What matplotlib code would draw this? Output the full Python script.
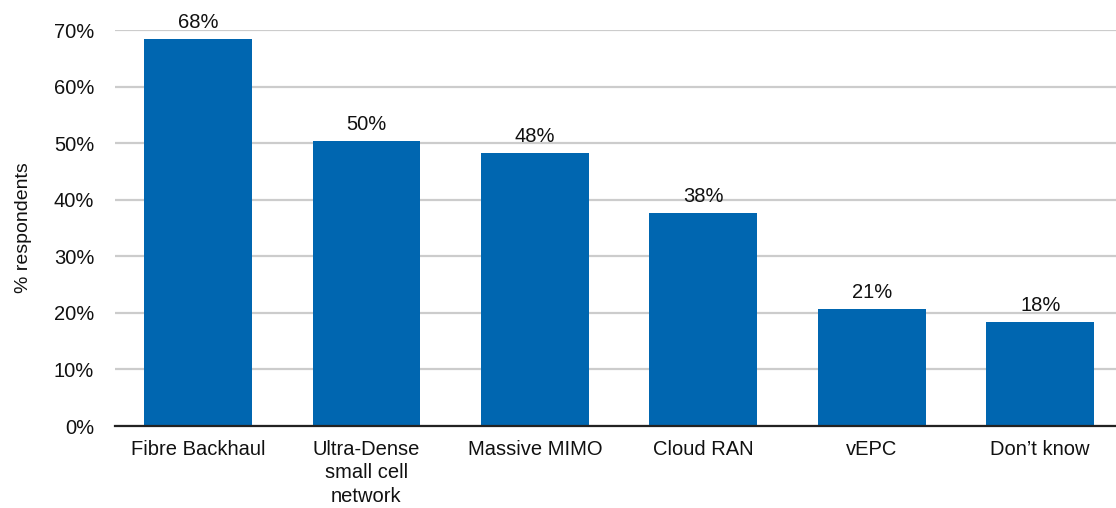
import numpy as np
import matplotlib.pyplot as plt

plt.rcParams["font.family"] = ["Liberation Sans", "DejaVu Sans"]

categories = ["Fibre Backhaul", "Ultra-Dense\nsmall cell\nnetwork", "Massive MIMO",
              "Cloud RAN", "vEPC", "Don\u2019t know"]
shares = [68.4, 50.4, 48.3, 37.6, 20.7, 18.4]
yticks = [0, 10, 20, 30, 40, 50, 60, 70]

bar_color = "#0066b0"
text_color = "#111111"

fig = plt.figure(figsize=(11.16, 5.08), dpi=100)
ax = fig.add_axes([115 / 1116, 82 / 508, 1 - 115 / 1116, 396 / 508])

x = np.arange(len(categories))
bars = ax.bar(x, shares, width=0.64, color=bar_color, zorder=3)

# Value labels above each bar
for b, v in zip(bars, shares):
    ax.annotate(f"{v:.0f}%", (b.get_x() + b.get_width() / 2, v),
                xytext=(0, 5), textcoords="offset points",
                ha="center", va="bottom", fontsize=14.5, color=text_color, zorder=4)

ax.set_ylim(0, 70)
ax.set_xlim(-0.493, 5.45)
ax.set_yticks(yticks)
ax.set_yticklabels([f"{t}%" for t in yticks], fontsize=14.5, color=text_color)
ax.set_xticks(x)
ax.set_xticklabels(categories, fontsize=14.5, color=text_color, linespacing=1.3)
ax.tick_params(axis="y", length=0, pad=15)
ax.tick_params(axis="x", length=0, pad=10)

ax.set_ylabel("% respondents", fontsize=14, color=text_color, labelpad=16)

# Light horizontal gridlines, dark baseline
ax.yaxis.grid(True, color="#cccccc", linewidth=1.6, zorder=0)
ax.set_axisbelow(True)
for side in ["top", "right", "left"]:
    ax.spines[side].set_visible(False)
ax.spines["bottom"].set_color("#222222")
ax.spines["bottom"].set_linewidth(1.6)
ax.spines["bottom"].set_zorder(5)

fig.savefig("out.png", dpi=100)
plt.close(fig)
